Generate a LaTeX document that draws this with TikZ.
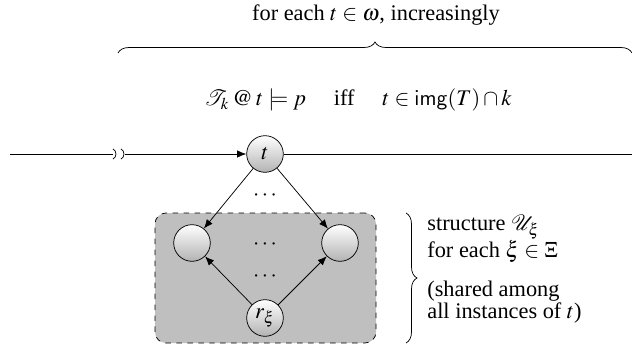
\documentclass[tikz,border=0pt]{standalone}
\usepackage{mathptmx}
\usepackage{mathrsfs}
\usepackage{fontspec}
\setmainfont{Liberation Serif}
\usetikzlibrary{arrows.meta,decorations.pathreplacing}
\begin{document}
\begin{tikzpicture}[x=0.546pt,y=-0.546pt,font=\fontsize{12.2}{12}\selectfont,
  ball/.style={circle,draw,thin,minimum size=20pt,inner sep=0pt,top color=white,bottom color=black!30},
  arr/.style={-{Latex[length=5pt,width=4pt]},thin},
  lbl/.style={inner sep=0pt,align=left,anchor=west}]
\useasboundingbox (0,0) rectangle (632,348);
% shared box
\node[draw,dashed,thin,fill=black!25,rounded corners=6pt,minimum width=221*0.546pt,minimum height=130*0.546pt,inner sep=0pt] (box) at (265.5,278) {};
% nodes
\node[ball] (t) at (265,154) {$t$};
\node[ball] (l) at (192,243) {};
\node[ball] (r) at (340,243) {};
\node[ball] (rx) at (265,318) {$r_\xi$};
\node (d1) at (265,196) {$\cdots$};
\node (d2) at (265,245) {$\cdots$};
\node (d3) at (265,277) {$\cdots$};
% timeline
\coordinate (L0) at (10,154);
\coordinate (L1) at (113,154);
\coordinate (L2) at (125,154);
\coordinate (L3) at (632,154);
\draw[thin] (L0) -- (L1);
\draw[arr] (L2) -- (t);
\draw[thin] (t) -- (L3);
\draw[thin] (113,149) .. controls (117,151) and (117,157) .. (113,159);
\draw[thin] (121,149) .. controls (125,151) and (125,157) .. (121,159);
% arrows
\draw[arr] (t) -- (l);
\draw[arr] (t) -- (r);
\draw[arr] (rx) -- (l);
\draw[arr] (rx) -- (r);
% top brace
\coordinate (b1) at (118,53);
\coordinate (b2) at (632,53);
\draw[thin,decorate,decoration={brace,amplitude=6pt}] (b1) -- (b2);
\node (top) at (376,15) {for each $t\in\omega$, increasingly};
\node (form) at (358,100) {$\mathscr{T}_k \mathbin{@} t\models p$\quad\ iff\ \quad$t\in\mathsf{img}(T)\cap k$};
% right brace
\coordinate (c1) at (406,213);
\coordinate (c2) at (406,343);
\draw[thin,decorate,decoration={brace,amplitude=6pt}] (c1) -- (c2);
\node[lbl] (s1) at (427,239) {structure $\mathscr{U}_\xi$\\for each $\xi\in\Xi$};
\node[lbl] (s2) at (427,302) {(shared among\\all instances of $t$)};
\end{tikzpicture}
\end{document}
